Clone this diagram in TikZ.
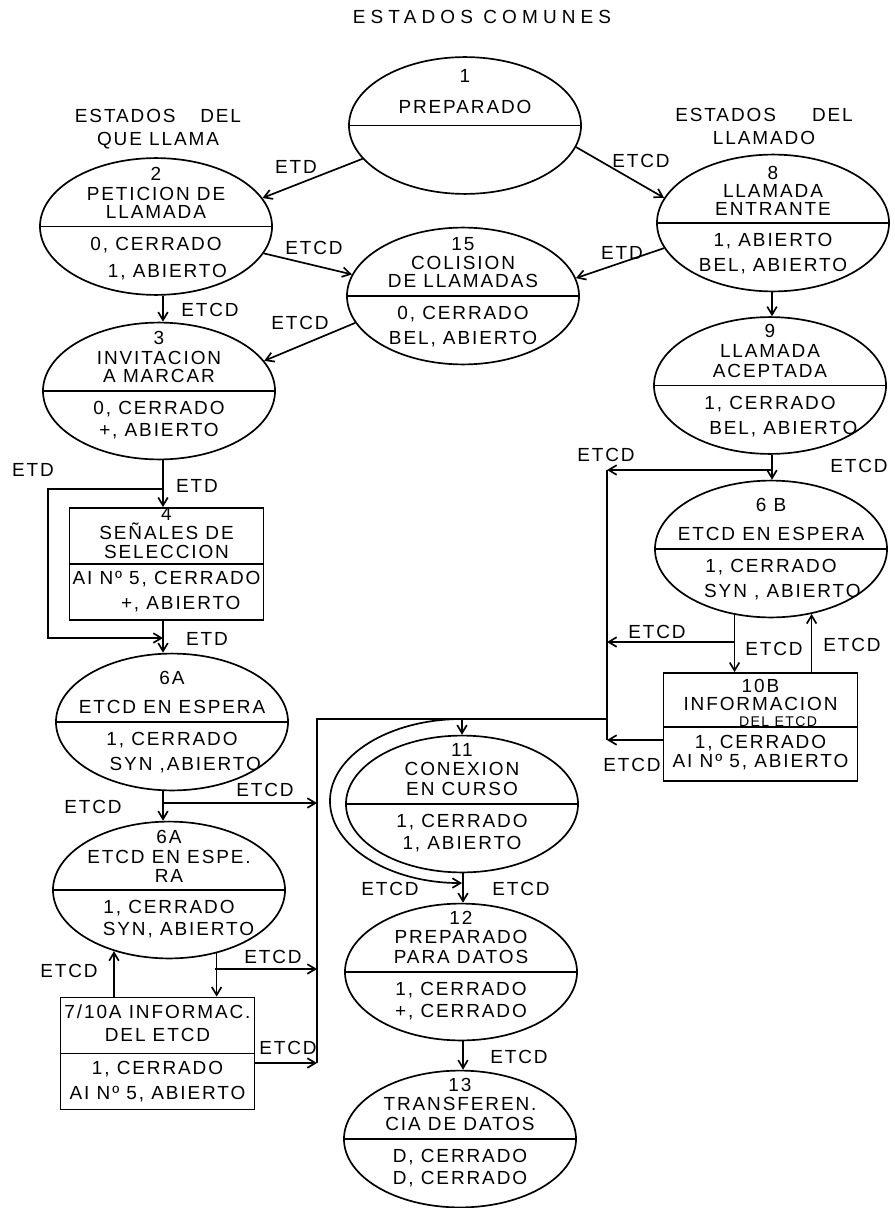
\documentclass[tikz,border=0pt]{standalone}
\usepackage{fontspec}
\setmainfont{Liberation Sans}[LetterSpace=10]
\newfontfamily\titulofont{Liberation Sans}[LetterSpace=27]
\usetikzlibrary{arrows.meta,shapes.geometric}

\begin{document}
\begin{tikzpicture}[
    x=0.025cm, y=0.025cm,
    line width=1.2pt,
    font=\fontsize{13.5}{14.2}\selectfont,
    estado/.style={draw, ellipse, minimum width=5.8cm, minimum height=3.42cm, inner sep=0pt},
    caja/.style={draw, rectangle, minimum width=4.85cm, minimum height=2.8cm, inner sep=0pt},
    arriba/.style={anchor=south, inner sep=0pt, yshift=5pt, align=center},
    abajo/.style={anchor=north, inner sep=0pt, yshift=-6.7pt, align=center, font=\fontsize{13.5}{17.8}\selectfont},
    etq/.style={inner sep=0pt},
    flecha/.style={-{Straight Barb[length=2mm, width=2.4mm]}}
]
\useasboundingbox (0,0) rectangle (894,-1208);

% encabezados
\node[font=\titulofont\fontsize{13.5}{14}\selectfont] (titulo) at (482,-17) {ESTADOS COMUNES};
\node[align=center, font=\fontsize{13.5}{16.3}\selectfont] (llama) at (158,-129.5) {ESTADOS\hspace{1.3em}DEL\\QUE LLAMA};
\node[align=center, font=\fontsize{13.5}{16.3}\selectfont] (llamado) at (764,-126.5) {ESTADOS\hspace{1.9em}DEL\\LLAMADO};

% estados
\node[estado] (e1) at (465,-125.5) {};
\node[arriba, yshift=3pt] (e1t) at (e1.center) {1\\[8pt]PREPARADO};

\node[estado] (e2) at (156,-226.5) {};
\node[arriba] (e2t) at (e2.center) {2\\PETICION DE\\[-1.5pt]LLAMADA};
\node[abajo] (e2b) at (e2.center) {0, CERRADO\\[2pt]\hspace{1.2em}1, ABIERTO};

\node[estado] (e8) at (773,-223) {};
\node[arriba] (e8t) at (e8.center) {8\\[-1.5pt]LLAMADA\\[-1.5pt]ENTRANTE};
\node[abajo] (e8b) at (e8.center) {1, ABIERTO\\BEL, ABIERTO};

\node[estado] (e15) at (463,-296) {};
\node[arriba] (e15t) at (e15.center) {15\\[-1pt]COLISION\\[-1pt]DE LLAMADAS};
\node[abajo] (e15b) at (e15.center) {0, CERRADO\\BEL, ABIERTO};

\node[estado] (e3) at (159,-391) {};
\node[arriba] (e3t) at (e3.center) {3\\INVITACION\\[-1pt]A MARCAR};
\node[abajo] (e3b) at (e3.center) {0, CERRADO\\[-2pt]+, ABIERTO};

\node[estado] (e9) at (770,-385.5) {};
\node[arriba] (e9t) at (e9.center) {9\\LLAMADA\\ACEPTADA};
\node[abajo] (e9b) at (e9.center) {1, CERRADO\\\hspace{1.4em}BEL, ABIERTO};

\node[estado] (e6b) at (771,-549) {};
\node[arriba] (e6bt) at (e6b.center) {6 B\\[7pt]ETCD EN ESPERA};
\node[abajo] (e6bb) at (e6b.center) {1, CERRADO\\\hspace{1.2em}SYN , ABIERTO};

\node[estado] (e6a) at (172,-722) {};
\node[arriba] (e6at) at (e6a.center) {6A\\[7pt]ETCD EN ESPERA};
\node[abajo] (e6ab) at (e6a.center) {1, CERRADO\\\hspace{1.4em}SYN ,ABIERTO};

\node[estado] (e6a2) at (169,-890) {};
\node[arriba] (e6a2t) at (e6a2.center) {6A\\ETCD EN ESPE.\\[-1pt]RA};
\node[abajo] (e6a2b) at (e6a2.center) {1, CERRADO\\[-2pt]\hspace{1em}SYN, ABIERTO};

\node[estado] (e11) at (462,-804) {};
\node[arriba] (e11t) at (e11.center) {11\\CONEXION\\EN CURSO};
\node[abajo] (e11b) at (e11.center) {1, CERRADO\\[-2pt]1, ABIERTO};

\node[estado] (e12) at (461,-972) {};
\node[arriba] (e12t) at (e12.center) {12\\PREPARADO\\PARA DATOS};
\node[abajo] (e12b) at (e12.center) {1, CERRADO\\[-2pt]+, CERRADO};

\node[estado] (e13) at (460,-1139) {};
\node[arriba] (e13t) at (e13.center) {13\\TRANSFEREN.\\CIA DE DATOS};
\node[abajo] (e13b) at (e13.center) {D, CERRADO\\[-2pt]D, CERRADO};

% cajas
\node[caja] (b4) at (166.5,-564) {};
\node[arriba, yshift=-1.5pt] (b4t) at (b4.center) {4\\[-0.5pt]SEÑALES DE\\[-1pt]SELECCION};
\node[abajo, yshift=2pt] (b4b) at (b4.center) {AI Nº 5, CERRADO\\\hspace{1.5em}+, ABIERTO};

\node[caja, minimum height=2.7cm] (b10b) at (760.5,-727) {};
\node[arriba, yshift=-5.5pt] (b10bt) at (b10b.center) {10B\\[-1pt]INFORMACION\\[-3pt]{\fontsize{10}{10}\selectfont\hspace{2.5em}DEL ETCD}};
\node[abajo, yshift=1.5pt] (b10bb) at (b10b.center) {1, CERRADO\\[-4pt]AI Nº 5, ABIERTO};

\node[caja] (b7) at (157.5,-1053.5) {};
\node[arriba, yshift=3pt] (b7t) at (b7.center) {7/10A INFORMAC.\\[2pt]DEL ETCD};
\node[abajo, yshift=1.5pt] (b7b) at (b7.center) {1, CERRADO\\AI Nº 5, ABIERTO};

\foreach \e in {e1,e2,e8,e15,e3,e9,e6b,e6a,e6a2,e11,e12,e13,b4,b10b,b7}
  \draw (\e.west) -- (\e.east);

% columnas y puntos de las lineas
\coordinate (cl) at (163,0);
\coordinate (cr) at (772,0);
\coordinate (cm) at (463,0);
\coordinate (br1) at (607,-470);
\coordinate (br2) at (607,-740);
\coordinate (br3) at (607,-642);
\coordinate (bl1) at (317,-719);
\coordinate (bl2) at (317,-1063);
\coordinate (d1) at (163,-489);
\coordinate (d2) at (163,-638);
\coordinate (d3) at (163,-803);
\coordinate (d4) at (215,-969);

% transiciones
\foreach \a/\b in {e1.198/e2.15, e1.349/e8.167, e8.193/e15.9, e2.346/e15.169, e15.194/e3.16}
  \draw[flecha] (\a) -- (\b);
\draw[flecha] (e2.south -| cl) -- (e3.north -| cl);
\draw[flecha] (e3.south -| cl) -- (b4.north -| cl);
\draw[flecha] (b4.south -| cl) -- (e6a.north -| cl);
\draw[flecha] (e6a.south -| cl) -- (e6a2.north -| cl);
\draw[flecha] (d1) -- ++(-115,0) -- ++(0,-149) -- (d2);
\draw[flecha] (e8.south -| cr) -- (e9.north -| cr);
\draw[flecha] (e9.south -| cr) -- (e6b.north -| cr);
\draw[flecha] (br1 -| cr) -- (br1);
\draw[flecha] (e6b.241) -- (e6b.241 |- b10b.north);
\draw[flecha] (br3 -| e6b.241) -- (br3);
\draw[flecha] (e6b.302 |- b10b.north) -- (e6b.302);
\draw[flecha] (br2 -| b10b.west) -- (br2);
\draw (br1) -- (br2);
\draw (bl1 -| br1) -- (bl1) -- (bl2);
\coordinate (t11) at (bl1 -| e11.north);
\draw[flecha] (t11) -- (e11.north);
\draw[flecha] (t11) arc[start angle=90, end angle=270, x radius=3.3cm, y radius=2.05cm];
\draw[flecha] (e11.south -| cm) -- (e12.north -| cm);
\draw[flecha] (e12.south -| cm) -- (e13.north -| cm);
\draw[flecha] (d3) -- (d3 -| bl1);
\draw[flecha] (e6a2.307) -- (e6a2.307 |- b7.north);
\draw[flecha] (d4) -- (d4 -| bl1);
\draw[flecha] (e6a2.228 |- b7.north) -- (e6a2.228);
\draw[flecha] (bl2 -| b7.east) -- (bl2);

% etiquetas
\foreach \n/\x/\y/\t in {m1/296/-167/ETD, m2/641/-161/ETCD, m3/314/-248/ETCD, m4/622/-253/ETD,
    m5/210/-310/ETCD, m6/300/-323/ETCD, m7/197/-486/ETD, m8/33/-470/ETD, m9/207/-639/ETD,
    m10/606/-455/ETCD, m11/859/-466/ETCD, m12/657/-632/ETCD, m13/774/-649/ETCD,
    m14/852/-645/ETCD, m15/632/-765/ETCD, m16/93/-807/ETCD, m17/265/-790/ETCD,
    m18/390/-889/ETCD, m19/521/-889/ETCD, m20/69/-971/ETCD, m21/273/-957/ETCD,
    m22/288/-1048/ETCD, m23/519/-1057/ETCD}
  \node[etq] (\n) at (\x,\y) {\t};
\end{tikzpicture}
\end{document}
